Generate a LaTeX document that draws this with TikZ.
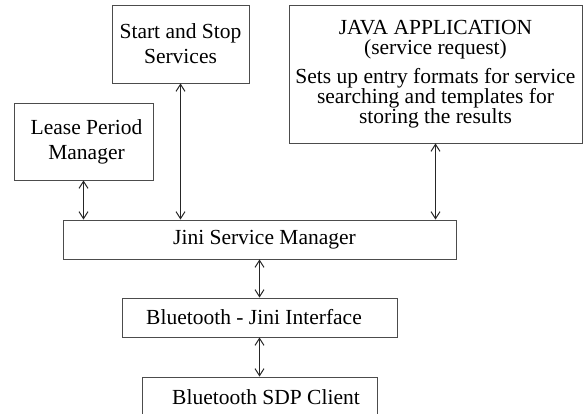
\documentclass[tikz,border=0pt]{standalone}
\usepackage{fontspec}
\setmainfont{Liberation Serif}
\usetikzlibrary{arrows.meta}
\begin{document}
\begin{tikzpicture}[x=1pt,y=-1pt,
  box/.style={draw=black!70, line width=0.9pt, rectangle, inner sep=0pt, align=center,
    font=\fontsize{21.5}{25}\selectfont, text=black},
  link/.style={draw=black!85, line width=1pt, {Straight Barb[length=7pt,width=9pt]}-{Straight Barb[length=7pt,width=9pt]}}]
\useasboundingbox (0,0) rectangle (583,414);
\clip (0,0) rectangle (583,414);
% boxes
\node[box, minimum width=137pt, minimum height=78pt] (start) at (180.5,44) {Start and Stop\\Services};
\node[box, minimum width=139pt, minimum height=77pt] (lease) at (83.5,141.5) {\hspace*{6pt}Lease Period\\\hspace*{6pt}Manager};
\node[box, minimum width=293pt, minimum height=138pt, font=\fontsize{21.5}{20}\selectfont] (java) at (435.5,74)
  {JAVA APPLICATION\\(service request)\\[9pt]Sets up entry formats for service\\searching and templates for\\storing the results};
\node[box, minimum width=393pt, minimum height=39pt] (jini) at (259.5,239.5) {\hspace*{10pt}Jini Service Manager};
\node[box, minimum width=275pt, minimum height=39pt] (bj) at (259.5,317.5) {Bluetooth - Jini Interface\hspace*{11pt}};
\node[box, minimum width=235pt, minimum height=40pt] (sdp) at (259.5,397) {\hspace*{13pt}Bluetooth SDP Client};
% connectors
\draw[link] (lease.south) -- (lease.south |- jini.north);
\draw[link] (start.south) -- (start.south |- jini.north);
\draw[link] (java.south) -- (java.south |- jini.north);
\draw[link] (jini.south) -- (bj.north);
\draw[link] (bj.south) -- (sdp.north);
\end{tikzpicture}
\end{document}
